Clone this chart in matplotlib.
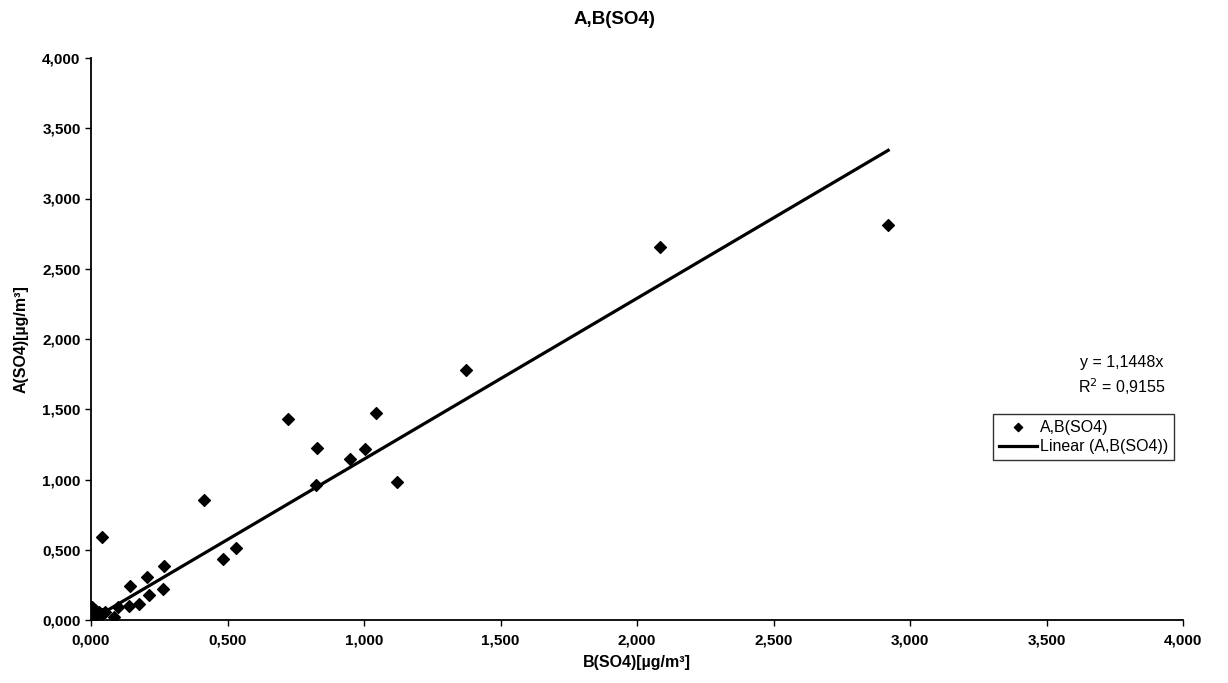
import matplotlib
matplotlib.use("Agg")
import matplotlib.pyplot as plt
from matplotlib.ticker import FuncFormatter, MultipleLocator
import numpy as np

plt.rcParams['font.family'] = ['Liberation Sans', 'DejaVu Sans']

b_so4 = [0.000, 0.005, 0.010, 0.015, 0.020, 0.030, 0.040, 0.050, 0.040,
         0.084, 0.098, 0.138, 0.142, 0.175, 0.204, 0.211, 0.265, 0.269,
         0.415, 0.484, 0.531, 0.720, 0.825, 0.829, 0.949, 1.004, 1.044,
         1.120, 1.375, 2.084, 2.920]
a_so4 = [0.020, 0.090, 0.050, 0.070, 0.030, 0.060, 0.040, 0.060, 0.590,
         0.020, 0.093, 0.100, 0.242, 0.114, 0.306, 0.178, 0.220, 0.384,
         0.854, 0.434, 0.512, 1.430, 0.961, 1.224, 1.146, 1.217, 1.470,
         0.980, 1.780, 2.655, 2.810]
slope = 1.1448
r2 = 0.9155
title = "A,B(SO4)"
x_label = "B(SO4)[µg/m³]"
y_label = "A(SO4)[µg/m³]"

fig = plt.figure(figsize=(12.28, 6.83), dpi=100)
ax = fig.add_axes([91/1228, 1 - 620/683, (1183 - 91)/1228, (620 - 58)/683])

ax.scatter(b_so4, a_so4, marker='D', s=36, color='black', zorder=3,
           label='A,B(SO4)')
xs = np.array([0, max(b_so4)])
ax.plot(xs, slope * xs, color='black', lw=2.3, label='Linear (A,B(SO4))')

ax.set_xlim(0, 4)
ax.set_ylim(0, 4)
ax.xaxis.set_major_locator(MultipleLocator(0.5))
ax.yaxis.set_major_locator(MultipleLocator(0.5))
fmt = FuncFormatter(lambda v, p: f"{v:.3f}".replace('.', ','))
ax.xaxis.set_major_formatter(fmt)
ax.yaxis.set_major_formatter(fmt)
for lab in ax.get_xticklabels() + ax.get_yticklabels():
    lab.set_fontweight('bold')
ax.tick_params(labelsize=11, direction='out', length=4, width=1, color='black')
ax.tick_params(axis='x', pad=6)
ax.spines['top'].set_visible(False)
ax.spines['right'].set_visible(False)
ax.spines['left'].set_linewidth(1.3)
ax.spines['bottom'].set_linewidth(1.3)

ax.set_xlabel(x_label, fontsize=11.5, fontweight='bold', labelpad=5)
ax.set_ylabel(y_label, fontsize=11.5, fontweight='bold', labelpad=10)
fig.text(0.5, 1 - 19/683, title, fontsize=13.5, fontweight='bold',
         ha='center', va='center')

fig.text(1122/1228, 1 - 363/683, f"y = {slope:.4f}x".replace('.', ','),
         fontsize=11.5, ha='center', va='center')
fig.text(1122/1228, 1 - 387/683, f"R$^2$ = {r2:.4f}".replace('.', ','),
         fontsize=11.5, ha='center', va='center')

leg = ax.legend(loc='upper left',
                bbox_to_anchor=((993 - 91)/(1183 - 91), (620 - 414)/(620 - 58)),
                fontsize=11.5, frameon=True, fancybox=False, edgecolor='black',
                handlelength=2.4, handletextpad=0.2, borderpad=0.35,
                labelspacing=0.3, borderaxespad=0, markerscale=0.7)
leg.get_frame().set_linewidth(1.0)

fig.savefig("out.png", dpi=100, facecolor='white')
